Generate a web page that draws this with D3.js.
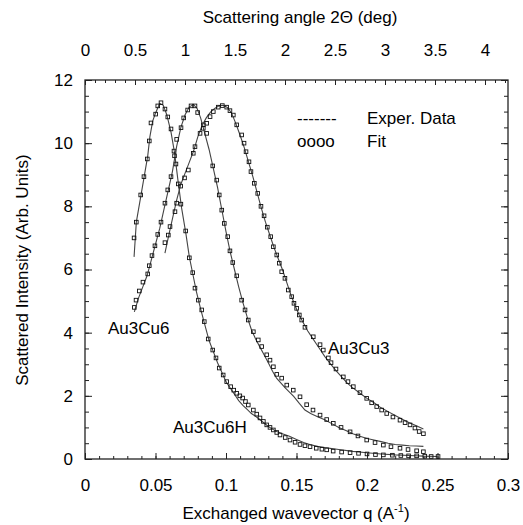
<!DOCTYPE html>
<html>
<head>
<meta charset="utf-8">
<script src="https://cdn.jsdelivr.net/npm/d3@7"></script>
<style>
body{margin:0;background:#fff;}
svg{font-family:"Liberation Sans",Arial,sans-serif;}
.axis text{font-size:17px;fill:#000;}
.axis path{display:none;}
.axis line{stroke:#222;stroke-width:1;}
</style>
</head>
<body>
<svg width="523" height="525"></svg>
<script>
// Au3Cu6H - fit (squares)
const cu6hFitQ = [0.0348,0.0364,0.0395,0.0418,0.0442,0.0456,0.0468,0.0501,0.0516,0.0539,0.0567,0.0587,0.061,0.0631,0.0645,0.0662,0.068,0.0714,0.074,0.0764,0.078,0.0804,0.0828,0.0846,0.0874,0.0906,0.0929,0.0952,0.098,0.1005,0.1033,0.1055,0.1076,0.1098,0.1118,0.1138,0.1158,0.1194,0.1218,0.1241,0.1265,0.1289,0.1312,0.1336,0.136,0.1383,0.142,0.1454,0.149,0.1525,0.156,0.1596,0.164,0.168,0.1714,0.176,0.182,0.188,0.194,0.2,0.206,0.2116,0.218,0.224,0.2295,0.2352,0.241,0.2455,0.2504];
const cu6hFitI = [7.0,7.5,8.36,8.94,9.5,10.07,10.64,10.92,11.18,11.28,11.08,10.83,10.45,9.75,9.34,8.71,8.07,7.22,6.37,5.9,5.41,5.03,4.72,4.35,3.8,3.45,3.2,2.88,2.66,2.45,2.29,2.18,2.08,2.0,1.93,1.82,1.71,1.55,1.42,1.3,1.19,1.08,1.0,0.92,0.84,0.76,0.68,0.6,0.53,0.46,0.42,0.39,0.34,0.31,0.29,0.25,0.22,0.2,0.18,0.16,0.14,0.13,0.12,0.11,0.1,0.1,0.09,0.08,0.08];
// Au3Cu6H - experimental (line)
const cu6hExpQ = [0.0348,0.0364,0.0395,0.042,0.0445,0.046,0.048,0.05,0.053,0.0555,0.058,0.061,0.0635,0.066,0.0685,0.0715,0.074,0.0765,0.079,0.082,0.085,0.088,0.091,0.094,0.097,0.1,0.103,0.106,0.109,0.112,0.115,0.118,0.121,0.124,0.128,0.132,0.136,0.14,0.145,0.15,0.155,0.16,0.165,0.17,0.18,0.19,0.2,0.21,0.22,0.23,0.24,0.25];
const cu6hExpI = [6.4,7.5,8.3,8.95,9.6,10.2,10.7,10.95,11.26,11.2,10.9,10.35,9.7,8.8,7.95,7.15,6.4,5.85,5.3,4.75,4.25,3.75,3.4,3.05,2.75,2.45,2.25,2.05,1.85,1.7,1.57,1.44,1.35,1.25,1.1,0.97,0.87,0.8,0.72,0.62,0.52,0.45,0.4,0.36,0.3,0.24,0.2,0.16,0.13,0.11,0.09,0.08];

// Au3Cu6 - fit (squares)
const cu6FitQ = [0.035,0.0362,0.0385,0.0411,0.0445,0.0456,0.0475,0.0496,0.0516,0.0539,0.0567,0.0587,0.061,0.0635,0.065,0.0681,0.07,0.0728,0.0752,0.078,0.0799,0.0839,0.0863,0.0906,0.0934,0.0952,0.097,0.0988,0.1012,0.1028,0.1048,0.1076,0.1111,0.1135,0.1158,0.1194,0.1229,0.1253,0.1289,0.1312,0.1336,0.136,0.1395,0.1431,0.1477,0.1525,0.1572,0.1617,0.1667,0.1714,0.1761,0.1816,0.188,0.1936,0.1998,0.2057,0.2116,0.217,0.2234,0.2291,0.2352,0.24];
const cu6FitI = [4.8,5.03,5.32,5.6,5.86,6.12,6.44,6.75,7.11,7.5,8.1,8.52,8.94,9.6,10.12,10.49,10.8,11.05,11.18,11.18,10.97,10.58,10.31,9.28,8.83,8.36,7.88,7.46,7.04,6.59,6.22,5.8,5.03,4.72,4.4,4.03,3.77,3.56,3.3,3.13,2.92,2.68,2.56,2.34,2.18,1.97,1.72,1.55,1.39,1.25,1.13,1.0,0.86,0.73,0.6,0.52,0.44,0.39,0.34,0.3,0.26,0.23];
// Au3Cu6 - experimental (line)
const cu6ExpQ = [0.035,0.038,0.041,0.044,0.047,0.05,0.053,0.056,0.059,0.062,0.065,0.068,0.071,0.074,0.077,0.0795,0.082,0.085,0.088,0.091,0.094,0.097,0.1,0.103,0.106,0.109,0.112,0.115,0.118,0.121,0.124,0.127,0.13,0.133,0.136,0.139,0.142,0.145,0.148,0.152,0.156,0.16,0.165,0.17,0.175,0.18,0.185,0.19,0.195,0.2,0.205,0.21,0.215,0.22,0.225,0.23,0.235,0.24];
const cu6ExpI = [4.66,5.1,5.45,5.8,6.3,6.8,7.3,7.9,8.5,9.1,9.9,10.5,10.9,11.15,11.22,11.1,10.8,10.3,9.8,9.2,8.6,7.9,7.2,6.55,6.0,5.45,4.95,4.5,4.1,3.8,3.55,3.3,3.05,2.78,2.55,2.4,2.25,2.12,1.98,1.76,1.55,1.44,1.34,1.24,1.12,1.0,0.9,0.8,0.72,0.65,0.6,0.55,0.5,0.46,0.44,0.42,0.41,0.4];

// Au3Cu3 - fit (squares)
const cu3FitQ = [0.0567,0.0591,0.0603,0.0638,0.065,0.0679,0.0706,0.0733,0.0768,0.078,0.0816,0.0839,0.0863,0.0887,0.091,0.0945,0.0974,0.1005,0.1028,0.1052,0.1076,0.1111,0.1128,0.1142,0.1163,0.1177,0.1201,0.1225,0.1248,0.127,0.1293,0.1317,0.1336,0.136,0.1378,0.1395,0.1418,0.1442,0.1466,0.1482,0.1501,0.152,0.1537,0.156,0.1619,0.1667,0.169,0.1726,0.1745,0.178,0.1832,0.1865,0.1903,0.195,0.1998,0.2033,0.2069,0.2104,0.214,0.2184,0.2234,0.227,0.2305,0.234,0.237,0.24];
const cu3FitI = [6.85,7.09,7.36,7.83,8.1,8.64,8.9,9.15,9.68,9.89,10.31,10.47,10.63,10.84,11.0,11.14,11.19,11.14,11.03,10.89,10.58,10.26,10.0,9.73,9.41,9.1,8.73,8.41,8.0,7.7,7.34,7.04,6.72,6.46,6.2,5.93,5.72,5.35,5.14,4.93,4.77,4.56,4.4,4.17,3.87,3.62,3.45,3.2,3.05,2.85,2.6,2.45,2.29,2.1,1.92,1.78,1.66,1.55,1.44,1.33,1.23,1.15,1.08,0.98,0.87,0.8];
// Au3Cu3 - experimental (line)
const cu3ExpQ = [0.0567,0.059,0.062,0.065,0.068,0.071,0.074,0.077,0.08,0.083,0.086,0.089,0.092,0.095,0.098,0.101,0.104,0.107,0.11,0.113,0.116,0.119,0.122,0.125,0.128,0.131,0.134,0.137,0.14,0.143,0.146,0.149,0.152,0.155,0.158,0.161,0.164,0.167,0.17,0.174,0.178,0.182,0.186,0.19,0.195,0.2,0.205,0.21,0.215,0.22,0.225,0.23,0.235,0.24];
const cu3ExpI = [6.52,7.0,7.6,8.2,8.7,9.05,9.4,9.75,10.2,10.55,10.8,10.98,11.1,11.18,11.2,11.13,10.95,10.62,10.25,9.85,9.4,8.95,8.45,7.95,7.5,7.1,6.7,6.35,6.0,5.6,5.2,4.85,4.55,4.3,4.05,3.85,3.65,3.45,3.25,3.02,2.8,2.6,2.4,2.25,2.08,1.92,1.78,1.62,1.5,1.38,1.26,1.15,1.05,0.95];

// axis ticks
const xTicks = [0,0.05,0.1,0.15,0.2,0.25,0.3];
const xTickLabels = ["0","0.05","0.1","0.15","0.2","0.25","0.3"];
const yTicks = [0,2,4,6,8,10,12];
const topTicks = [0,0.5,1,1.5,2,2.5,3,3.5,4];
const topTickLabels = ["0","0.5","1","1.5","2","2.5","3","3.5","4"];

const svg = d3.select('svg');
const L = 85, R = 508, T = 80, B = 459;

const x = d3.scaleLinear().domain([0,0.3]).range([L,R]);
const y = d3.scaleLinear().domain([0,12]).range([B,T]);
const xTop = d3.scaleLinear().domain([0,4.23]).range([L,R]);

// minor ticks
const xMinor = d3.range(0,0.3001,0.01);
const yMinor = d3.range(0,12.001,0.5);
const topMinor = d3.range(0,4.2301,0.1);

svg.append('g').attr('class','axis').attr('transform',`translate(0,${B})`)
  .call(d3.axisBottom(x).tickValues(xMinor).tickSize(-3).tickFormat(''));
svg.append('g').attr('class','axis').attr('transform',`translate(0,${B})`)
  .call(d3.axisBottom(x).tickValues(xTicks).tickSize(-6).tickPadding(20)
    .tickFormat((d,i)=>xTickLabels[i]));

svg.append('g').attr('class','axis').attr('transform',`translate(0,${T})`)
  .call(d3.axisTop(xTop).tickValues(topMinor).tickSize(-3).tickFormat(''));
svg.append('g').attr('class','axis').attr('transform',`translate(0,${T})`)
  .call(d3.axisTop(xTop).tickValues(topTicks).tickSize(-5).tickPadding(24)
    .tickFormat((d,i)=>topTickLabels[i]));

svg.append('g').attr('class','axis').attr('transform',`translate(${L},0)`)
  .call(d3.axisLeft(y).tickValues(yMinor).tickSize(-4).tickFormat(''));
svg.append('g').attr('class','axis').attr('transform',`translate(${L},0)`)
  .call(d3.axisLeft(y).tickValues(yTicks).tickSize(-7).tickPadding(12).tickFormat(d3.format('d')));

svg.append('g').attr('class','axis').attr('transform',`translate(${R},0)`)
  .call(d3.axisRight(y).tickValues(yMinor).tickSize(-4).tickFormat(''));
svg.append('g').attr('class','axis').attr('transform',`translate(${R},0)`)
  .call(d3.axisRight(y).tickValues(yTicks).tickSize(-7).tickFormat(''));

// frame
svg.append('rect').attr('x',L).attr('y',T).attr('width',R-L).attr('height',B-T)
  .attr('fill','none').attr('stroke','#222').attr('stroke-width',1.3);

// curves
const line = d3.line().x(d=>x(d[0])).y(d=>y(d[1]));
const series = [
  {expQ:cu6hExpQ, expI:cu6hExpI, fitQ:cu6hFitQ, fitI:cu6hFitI},
  {expQ:cu6ExpQ, expI:cu6ExpI, fitQ:cu6FitQ, fitI:cu6FitI},
  {expQ:cu3ExpQ, expI:cu3ExpI, fitQ:cu3FitQ, fitI:cu3FitI}
];
series.forEach(s=>{
  svg.append('path')
    .datum(s.expQ.map((q,i)=>[q,s.expI[i]]))
    .attr('d',line).attr('fill','none').attr('stroke','#444').attr('stroke-width',1.1);
  svg.append('g').selectAll('rect')
    .data(s.fitQ.map((q,i)=>[q,s.fitI[i]]))
    .enter().append('rect')
    .attr('x',d=>x(d[0])-1.8).attr('y',d=>y(d[1])-1.8)
    .attr('width',3.6).attr('height',3.6)
    .attr('fill','none').attr('stroke','#111').attr('stroke-width',0.9);
});

// titles
svg.append('text').attr('x',300).attr('y',23).attr('text-anchor','middle')
  .attr('font-size',17).text('Scattering angle 2\u0398 (deg)');
const xl = svg.append('text').attr('x',296).attr('y',519).attr('text-anchor','middle').attr('font-size',17);
xl.append('tspan').text('Exchanged wavevector q (A');
xl.append('tspan').attr('dy',-7).attr('font-size',11).text('-1');
xl.append('tspan').attr('dy',7).text(')');
svg.append('text').attr('transform','translate(28,270) rotate(-90)').attr('text-anchor','middle')
  .attr('font-size',17).text('Scattered Intensity (Arb. Units)');

// legend
svg.append('text').attr('x',297).attr('y',124).attr('font-size',17).text('-------');
svg.append('text').attr('x',367).attr('y',124).attr('font-size',17).text('Exper. Data');
svg.append('text').attr('x',297).attr('y',147).attr('font-size',17).text('oooo');
svg.append('text').attr('x',367).attr('y',147).attr('font-size',17).text('Fit');

// curve labels
svg.append('text').attr('x',108).attr('y',334).attr('font-size',17).text('Au3Cu6');
svg.append('text').attr('x',173).attr('y',433).attr('font-size',17).text('Au3Cu6H');
svg.append('text').attr('x',328).attr('y',354).attr('font-size',17).text('Au3Cu3');
</script>
</body>
</html>
